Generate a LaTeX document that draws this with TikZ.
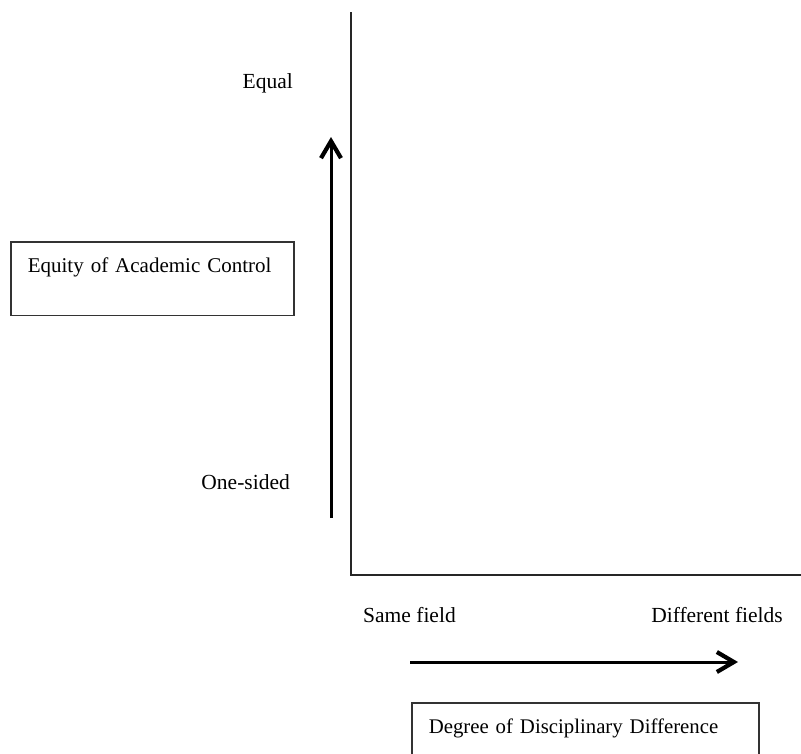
\documentclass[tikz,border=0pt]{standalone}
\usepackage{fontspec}
\setmainfont{Liberation Serif}
\usetikzlibrary{arrows.meta}
\tikzstyle{item} = [rectangle, draw=black!80, line width=1.5pt, anchor=north west, align=left, inner xsep=17pt, inner ysep=16pt, text depth=27pt]
\tikzstyle{lbl} = [inner sep=0pt, font=\fontsize{21.5}{25}\selectfont]
\tikzstyle{axis} = [line width=1.8pt, black!85]
\tikzstyle{arrow} = [line width=3pt, -{Straight Barb[length=17pt,width=20pt,line width=4.2pt]}]

\begin{document}
\begin{tikzpicture}[x=1pt,y=-1pt]
\clip (0,0) rectangle (801,753);
\fill[white] (0,0) rectangle (801,753);
\coordinate(ytop) at (351,12);
\coordinate(origin) at (351,575);
\coordinate(xend) at (801,575);
\draw[axis] (ytop) -- (origin) -- (xend);
\node(eq)[item, text width=249pt, font=\fontsize{21}{24}\selectfont] at (10,241) {Equity of Academic Control};
\node(deg)[item, text width=313pt, font=\fontsize{20.8}{24}\selectfont] at (411,702) {Degree of Disciplinary Difference};
\node(equal)[lbl, anchor=base east] at (293,88) {Equal};
\node(onesided)[lbl, anchor=base east] at (290,489) {One-sided};
\node(same)[lbl, anchor=base west] at (363,622) {Same field};
\node(diff)[lbl, anchor=base east] at (783,622) {Different fields};
\coordinate(ylo) at (331,518);
\coordinate(yhi) at (331,137);
\coordinate(xlo) at (410,662);
\coordinate(xhi) at (738,662);
\draw[arrow] (ylo) -- (yhi);
\draw[arrow] (xlo) -- (xhi);
\end{tikzpicture}
\end{document}
